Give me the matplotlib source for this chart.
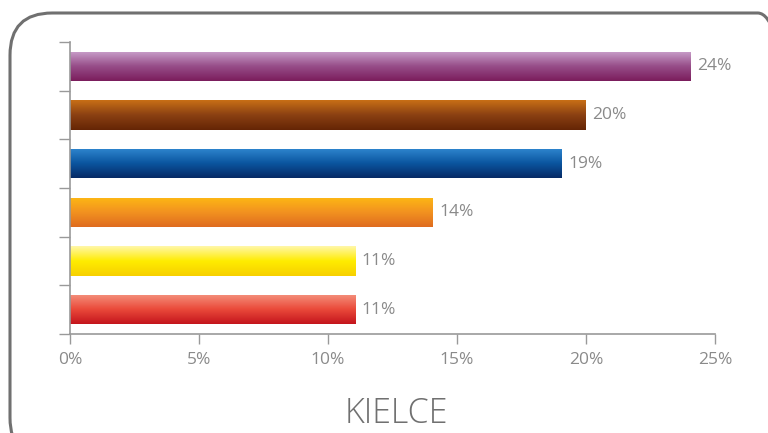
import matplotlib
matplotlib.use("Agg")
import matplotlib.pyplot as plt
import numpy as np
from matplotlib.colors import LinearSegmentedColormap
from matplotlib.patches import FancyBboxPatch

# Data (top to bottom)
values = [24.05, 20.0, 19.05, 14.05, 11.05, 11.05]
labels = ["24%", "20%", "19%", "14%", "11%", "11%"]
xticks = [0, 5, 10, 15, 20, 25]
xticklabels = ["0%", "5%", "10%", "15%", "20%", "25%"]
title = "KIELCE"

# gradient colours (top, middle, bottom)
gradients = [
    ["#c99fca", "#974e89", "#7b1d5c"],
    ["#c86f16", "#8a4012", "#652505"],
    ["#2f86cf", "#0b56a0", "#062a65"],
    ["#fdb814", "#f29220", "#df6c1f"],
    ["#fff7a8", "#ffec00", "#f7d000"],
    ["#f4907c", "#ea4a3a", "#c4151d"],
]

plt.rcParams['font.family'] = ['Open Sans', 'DejaVu Sans']

W, H = 768, 433
fig = plt.figure(figsize=(W / 100, H / 100), dpi=100)

# rounded frame
frame = FancyBboxPatch((10 / W, (433 - 460) / H), (800 - 10) / W, (460 - 13) / H,
                       boxstyle="round,pad=0,rounding_size=0.055",
                       transform=fig.transFigure, fill=False,
                       edgecolor="#707070", linewidth=2.2, mutation_aspect=W / H)
fig.patches.append(frame)

ax = fig.add_axes([70 / W, (H - 334) / H, (715 - 70) / W, (334 - 42) / H])
n = len(values)
ypos = np.arange(n)[::-1]
bars = ax.barh(ypos, values, height=0.6, color="none", edgecolor="none")

for bar, grad in zip(bars, gradients):
    x0, y0 = bar.get_x(), bar.get_y()
    w, h = bar.get_width(), bar.get_height()
    cmap = LinearSegmentedColormap.from_list("g", grad)
    img = np.linspace(0, 1, 100).reshape(-1, 1)
    im = ax.imshow(img, cmap=cmap, aspect="auto",
                   extent=(x0, x0 + w, y0, y0 + h), origin="upper", zorder=2)
    im.set_clip_path(bar)

for y, v, lab in zip(ypos, values, labels):
    ax.text(v + 0.25, y, lab, va="center", ha="left", fontsize=12.5, color="#8a8a8a")

ax.set_xlim(0, 25)
ax.set_ylim(-0.5, n - 0.5)
ax.set_xticks(xticks)
ax.set_xticklabels(xticklabels)
ax.set_yticks(np.arange(-0.5, n, 1.0))
ax.set_yticklabels([])
ax.tick_params(axis="x", direction="out", length=7, width=1, color="#999999",
               labelcolor="#8a8a8a", labelsize=12.5, pad=6)
ax.tick_params(axis="y", direction="out", length=8, width=1, color="#999999")
for s in ["top", "right"]:
    ax.spines[s].set_visible(False)
for s in ["left", "bottom"]:
    ax.spines[s].set_color("#999999")
    ax.spines[s].set_linewidth(1.2)

fig.text(396 / W, (H - 414) / H, title, ha="center", va="center",
         fontsize=24.5, color="#707070", fontweight="light")

fig.savefig("out.png", dpi=100)
